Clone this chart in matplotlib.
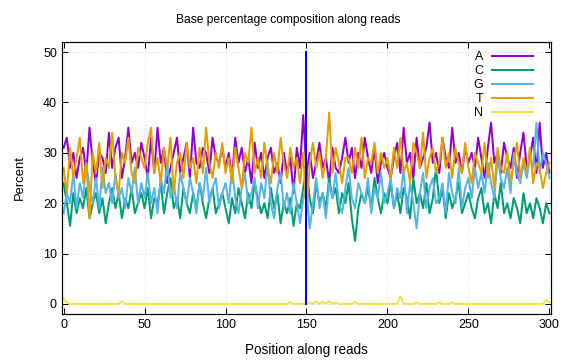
import matplotlib
matplotlib.use("Agg")
import matplotlib.pyplot as plt

plt.rcParams['font.family'] = ['Liberation Sans', 'DejaVu Sans']

# read positions 0..300, every second base
pos = list(range(0, 301, 2))

a_pct = [31,33,27,30,25,29,31,26,35,28,24,30,29,26,34,27,31,33,25,29,35,28,30,27,32,
         29,25,33,26,35,28,31,24,27,30,33,26,29,32,25,35,28,27,31,30,26,33,29,28,31,
         27,30,25,33,28,31,26,29,24,32,27,30,25,29,31,26,28,24,30,26,29,22,31,27,37.5,
         26,30,25,28,32,27,29,24,31,27,26,29,33,28,31,25,30,27,33,29,26,31,24,28,30,
         27,25,29,32,26,35,28,30,25,33,27,29,31,36,28,30,26,33,29,27,35,28,30,26,31,
         28,30,27,33,29,25,31,36,28,30,26,32,29,27,31,25,30,34,27,29,33,26,36,27,30,26]

c_pct = [24,20,15.5,22,18,21,19,23,17,20,22,18,21,16,20,23,19,22,17,21,19,23,18,20,22,
         19,23,17,21,20,24,18,22,25,19,21,17,23,20,18,22,19,24,20,17,21,23,18,20,22,
         19,16,21,18,23,20,17,22,19,24,21,18,20,17,23,19,22,16,20,18,21,15.5,20,19,23,
         27,21,18,24,20,22,19,25,21,23,18,22,20,24,17,12.5,19,22,20,23,19,25,21,18,22,
         20,24,19,22,18,23,21,17,25,20,22,19,24,18,21,27,20,23,17,22,19,21,24,18,20,
         22,19,17,21,23,18,20,16,22,19,24,18,20,17,21,19,16,22,18,20,17,21,19,16,20,18]

g_pct = [18,22,20,26,19,24,21,28,23,20,25,19,27,22,24,20,26,21,23,19,25,22,27,20,24,
         21,26,20,23,18,25,22,28,21,24,19,26,23,20,25,22,18,24,21,27,20,23,25,19,22,
         24,20,27,21,18,23,26,20,22,25,19,24,21,28,20,17,23,26,19,22,18,24,20,16,21,
         23,15,20,25,19,22,17,24,21,26,20,18,23,27,21,19,24,22,20,25,18,23,21,26,20,
         22,25,19,23,21,27,18,24,20,15,22,26,19,23,25,20,21,24,18,26,22,20,27,19,23,
         25,21,27,23,26,22,28,24,21,29,25,23,27,22,30,26,24,28,25,29,27,36,26,30,28,25]

t_pct = [27,22,31,25,29,33,24,28,17,30,26,32,23,29,27,34,25,22,30,28,33,26,24,31,29,
         27,32,35,26,29,24,31,27,33,22,28,30,25,32,27,29,24,31,26,35,28,25,30,27,32,
         26,29,24,31,27,23,30,28,35,26,29,25,32,27,24,30,26,33,28,25,31,27,29,24,30,
         18,28,32,27,30,25,29,38,26,31,28,24,29,29,26,31,27,33,25,29,28,32,26,30,27,
         29,25,31,27,33,26,28,24,32,30,27,34,25,29,31,26,28,33,27,30,25,31,28,26,32,
         27,24,30,28,26,32,25,29,23,31,27,26,30,24,28,32,25,29,26,31,24,28,27,23,26,28]

# N is zero except for a few small bumps
n_bump_pos = [0, 2, 36, 140, 152, 156, 160, 164, 168, 180, 208, 218, 232, 240, 298, 300]
n_bump_val = [1.0, 0.3, 0.5, 0.4, 0.3, 0.5, 0.4, 0.5, 0.3, 0.4, 1.5, 0.3, 0.3, 0.3, 0.8, 0.4]
n_pct = [0.0] * len(pos)
for p, v in zip(n_bump_pos, n_bump_val):
    n_pct[pos.index(p)] = v

series = [("A", a_pct, "#9400d3"),
          ("C", c_pct, "#009e73"),
          ("G", g_pct, "#56b4e9"),
          ("T", t_pct, "#e69f00"),
          ("N", n_pct, "#f0e442")]

fig = plt.figure(figsize=(8, 5), dpi=72)
ax = fig.add_axes([0.1076, 0.1278, 0.849, 0.7555])

for name, vals, col in series:
    ax.plot(pos, vals, color=col, lw=2, label=name)

ax.plot([150, 150], [0, 50], color="blue", lw=2)

ax.set_xlim(-1, 301)
ax.set_ylim(-2, 52)
ax.set_xticks(range(0, 301, 50))
ax.set_yticks(range(0, 51, 10))
ax.tick_params(direction="in", length=6, top=True, right=True, labelsize=12.5, width=1, pad=5)
ax.grid(True, color="#c8c8c8", linestyle=(0, (1, 3)), lw=0.8)
for s in ax.spines.values():
    s.set_linewidth(1.2)

fig.text(0.5, 1 - 20 / 360, "Base percentage composition along reads",
         fontsize=12, ha="center", va="center")
ax.set_xlabel("Position along reads", fontsize=13.5, labelpad=12)
ax.set_ylabel("Percent", fontsize=13, labelpad=17)

ax.legend(loc="upper right", bbox_to_anchor=(0.9734, 0.985), borderaxespad=0,
          markerfirst=False, frameon=False, fontsize=12.5,
          handlelength=3.3, labelspacing=0.16, handletextpad=0.7)

fig.savefig("out.png", dpi=72)
